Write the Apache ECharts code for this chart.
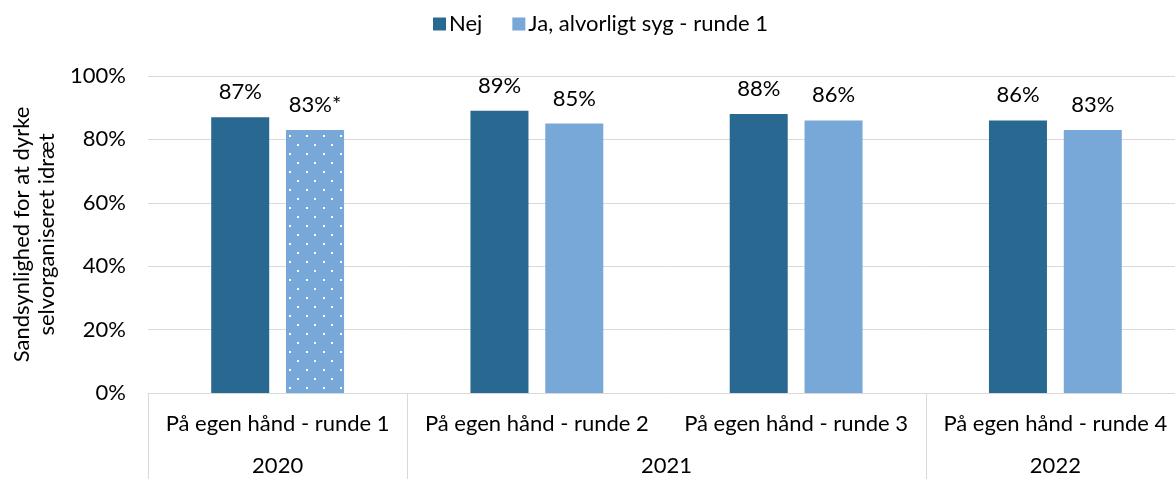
<!DOCTYPE html>
<html>
<head>
<meta charset="utf-8">
<script src="https://cdn.jsdelivr.net/npm/echarts@6/dist/echarts.min.js"></script>
<style>
  html, body { margin: 0; padding: 0; background: #ffffff; overflow: hidden; }
  /* the drawing runs slightly past the right edge of the page */
  #chart { width: 1185px; height: 479px; }
</style>
</head>
<body>
<div id="chart"></div>
<script>
// Rounds on the inner axis level and the year each round belongs to
const rounds = [
  'På egen hånd - runde 1',
  'På egen hånd - runde 2',
  'På egen hånd - runde 3',
  'På egen hånd - runde 4'
];
const roundYears = ['2020', '2021', '2021', '2022'];

// Series values (percent)
const seriesNames = ['Nej', 'Ja, alvorligt syg - runde 1'];
const nejValues = [87, 89, 88, 86];
const jaValues = [83, 85, 86, 83];
// Significance marks appended to the value labels
const jaMarks = ['*', '', '', ''];
// Bars drawn with a dotted fill
const jaDotted = [true, false, false, false];

const yTicks = [0, 20, 40, 60, 80, 100];
const yTitle = 'Sandsynlighed for at dyrke\nselvorganiseret idræt';

// Year groups: boundaries and centres in category units
const groupBounds = [0];
const groupCentres = [];
const groupLabels = [];
(function () {
  let start = 0;
  for (let i = 1; i <= roundYears.length; i++) {
    if (i === roundYears.length || roundYears[i] !== roundYears[start]) {
      groupBounds.push(i);
      groupCentres.push((start + i) / 2);
      groupLabels.push(roundYears[start]);
      start = i;
    }
  }
})();

const FONT = 'Lato';
const FS = 22;
const DARK = '#286891';
const LIGHT = '#77a8d7';
const GRID = '#d9d9d9';

const chart = echarts.init(document.getElementById('chart'), null, { renderer: 'canvas' });

const labelStyle = {
  show: true,
  position: 'top',
  distance: 14,
  color: '#000000',
  fontFamily: FONT,
  fontSize: FS
};

chart.setOption({
  animation: false,
  textStyle: { fontFamily: FONT },
  legend: {
    top: 8,
    left: 428,
    itemWidth: 13,
    itemHeight: 13,
    itemGap: 30,
    icon: 'rect',
    textStyle: { fontFamily: FONT, fontSize: FS, color: '#000000', padding: [0, 0, 0, -2] },
    data: seriesNames
  },
  grid: { left: 148, top: 76, right: 0, height: 317 },
  yAxis: {
    type: 'value',
    min: yTicks[0],
    max: yTicks[yTicks.length - 1],
    interval: yTicks[1] - yTicks[0],
    name: yTitle,
    nameLocation: 'middle',
    nameGap: 88,
    nameRotate: 90,
    nameTextStyle: { fontFamily: FONT, fontSize: FS, color: '#000000', lineHeight: 25 },
    axisLine: { show: false },
    axisTick: { show: false },
    axisLabel: {
      margin: 22,
      fontFamily: FONT,
      fontSize: FS,
      color: '#000000',
      formatter: v => v + '%'
    },
    splitLine: { lineStyle: { color: GRID, width: 1 } }
  },
  xAxis: [
    {
      type: 'category',
      data: rounds,
      position: 'bottom',
      axisLine: { lineStyle: { color: GRID, width: 1 } },
      axisTick: { show: false },
      axisLabel: {
        margin: 20,
        interval: 0,
        fontFamily: FONT,
        fontSize: FS,
        color: '#000000'
      },
      splitLine: { show: false }
    },
    {
      type: 'value',
      min: 0,
      max: rounds.length,
      position: 'bottom',
      axisLine: { show: false },
      axisTick: {
        show: true,
        customValues: groupBounds,
        length: 90,
        lineStyle: { color: GRID, width: 1 }
      },
      axisLabel: {
        show: true,
        customValues: groupCentres,
        margin: 62,
        fontFamily: FONT,
        fontSize: FS,
        color: '#000000',
        formatter: v => groupLabels[groupCentres.indexOf(v)]
      },
      splitLine: { show: false }
    }
  ],
  series: [
    {
      name: seriesNames[0],
      type: 'bar',
      xAxisIndex: 0,
      barWidth: 58,
      barGap: '29%',
      itemStyle: { color: DARK },
      label: Object.assign({}, labelStyle, { formatter: p => p.value + '%' }),
      data: nejValues
    },
    {
      name: seriesNames[1],
      type: 'bar',
      xAxisIndex: 0,
      barWidth: 58,
      itemStyle: { color: LIGHT },
      label: Object.assign({}, labelStyle, {
        formatter: p => p.value + '%' + jaMarks[p.dataIndex]
      }),
      data: jaValues.map((v, i) => jaDotted[i] ? {
        value: v,
        itemStyle: {
          color: LIGHT,
          decal: {
            symbol: 'rect',
            symbolSize: 1,
            color: '#ffffff',
            backgroundColor: LIGHT,
            dashArrayX: [[2, 15], [0, 8, 2, 7]],
            dashArrayY: [2, 6.5],
            rotation: 0
          }
        }
      } : v)
    }
  ]
});
</script>
</body>
</html>
